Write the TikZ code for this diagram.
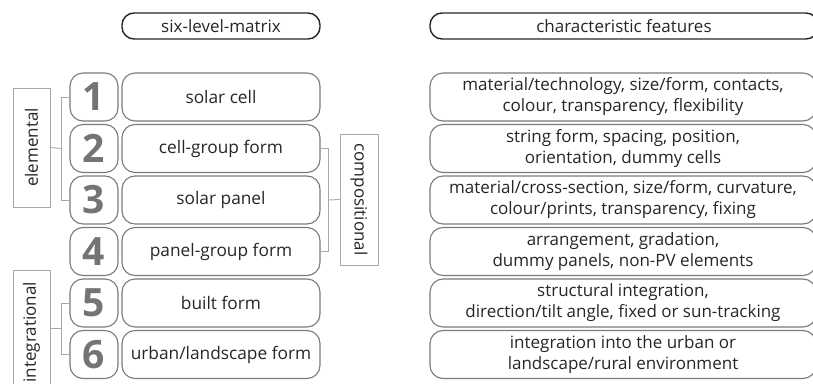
\documentclass[tikz,border=0pt]{standalone}
\usepackage{fontspec}
\setmainfont{Open Sans}
\usepackage{xcolor}
\usepackage{tikz}
\usetikzlibrary{positioning,calc}
\definecolor{edge}{HTML}{7A7A7A}
\definecolor{ink}{HTML}{262626}
\definecolor{digit}{HTML}{747474}
\definecolor{thin}{HTML}{A8A8A8}

\begin{document}
\begin{tikzpicture}[x=1pt, y=-1pt,
  headbox/.style={rectangle, rounded corners=12pt, draw=ink, line width=1.4pt, minimum height=26pt, inner sep=0pt, text=ink, font=\fontsize{17}{20}\selectfont},
  numbox/.style={rectangle, rounded corners=13pt, draw=edge, line width=1.1pt, minimum width=48pt, minimum height=48pt, inner sep=0pt, text=digit, font=\fontsize{39}{39}\selectfont\bfseries},
  levelbox/.style={rectangle, rounded corners=13pt, draw=edge, line width=1.1pt, minimum width=198pt, minimum height=48pt, inner sep=0pt, text=ink, font=\fontsize{17.3}{20}\selectfont},
  featbox/.style={rectangle, rounded corners=13pt, draw=edge, line width=1.1pt, minimum width=386pt, minimum height=48pt, inner sep=0pt, align=center, text=ink, font=\fontsize{17}{21}\selectfont},
  groupbox/.style={rectangle, draw=thin, line width=0.9pt, inner sep=0pt, text=ink, font=\fontsize{17}{20}\selectfont},
  link/.style={draw=thin, line width=0.9pt}
]
\useasboundingbox (0,0) rectangle (813,383);

% column headings
\node[headbox, minimum width=198pt] (hmatrix) at (221,26) {six-level-matrix};
\node[headbox, minimum width=388pt] (hfeat) at (624,26) {characteristic features};

% the six levels
\node[numbox] (n1) at (94,97) {1};
\node[numbox] (n2) at (94,148.5) {2};
\node[numbox] (n3) at (94,200) {3};
\node[numbox] (n4) at (94,251.5) {4};
\node[numbox] (n5) at (94,303) {5};
\node[numbox] (n6) at (94,354.5) {6};

\node[levelbox] (l1) at (221,97) {solar cell};
\node[levelbox] (l2) at (221,148.5) {cell-group form};
\node[levelbox] (l3) at (221,200) {solar panel};
\node[levelbox] (l4) at (221,251.5) {panel-group form};
\node[levelbox] (l5) at (221,303) {built form};
\node[levelbox] (l6) at (221,354.5) {urban/landscape form};

\node[featbox] (f1) at (623,97) {material/technology, size/form, contacts,\\colour, transparency, flexibility};
\node[featbox] (f2) at (623,148.5) {string form, spacing, position,\\orientation, dummy cells};
\node[featbox] (f3) at (623,200) {material/cross-section, size/form, curvature,\\colour/prints, transparency, fixing};
\node[featbox] (f4) at (623,251.5) {arrangement, gradation,\\dummy panels, non-PV elements};
\node[featbox] (f5) at (623,303) {structural integration,\\direction/tilt angle, fixed or sun-tracking};
\node[featbox] (f6) at (623,354.5) {integration into the urban or\\landscape/rural environment};

% groupings
\node[groupbox, minimum width=37pt, minimum height=119pt] (elem) at (31.5,147.5) {\rotatebox{90}{elemental}};
\node[groupbox, minimum width=37pt, minimum height=120pt, anchor=north] (integ) at (31.5,270) {};
\node[text=ink, font=\fontsize{17}{20}\selectfont, rotate=90, anchor=west] (integlab) at (31.5,386) {integrational};
\node[groupbox, minimum width=38pt, minimum height=131pt] (comp) at (359,199.5) {\rotatebox{-90}{compositional}};

\coordinate (eb) at ($(n2.west)+(-8,0)$);
\draw[link] (n1.west) -| (eb) |- (n3.west);
\draw[link] (elem.east) -- (eb);

\coordinate (ib) at ($(n5.west)!0.5!(n6.west)+(-8,0)$);
\draw[link] (n5.west) -| (ib) |- (n6.west);
\draw[link] (integ.east |- ib) -- (ib);

\coordinate (cb) at ($(l3.east)+(8,0)$);
\draw[link] (l2.east) -| (cb) |- (l4.east);
\draw[link] (cb) -- (comp.west);
\end{tikzpicture}
\end{document}
